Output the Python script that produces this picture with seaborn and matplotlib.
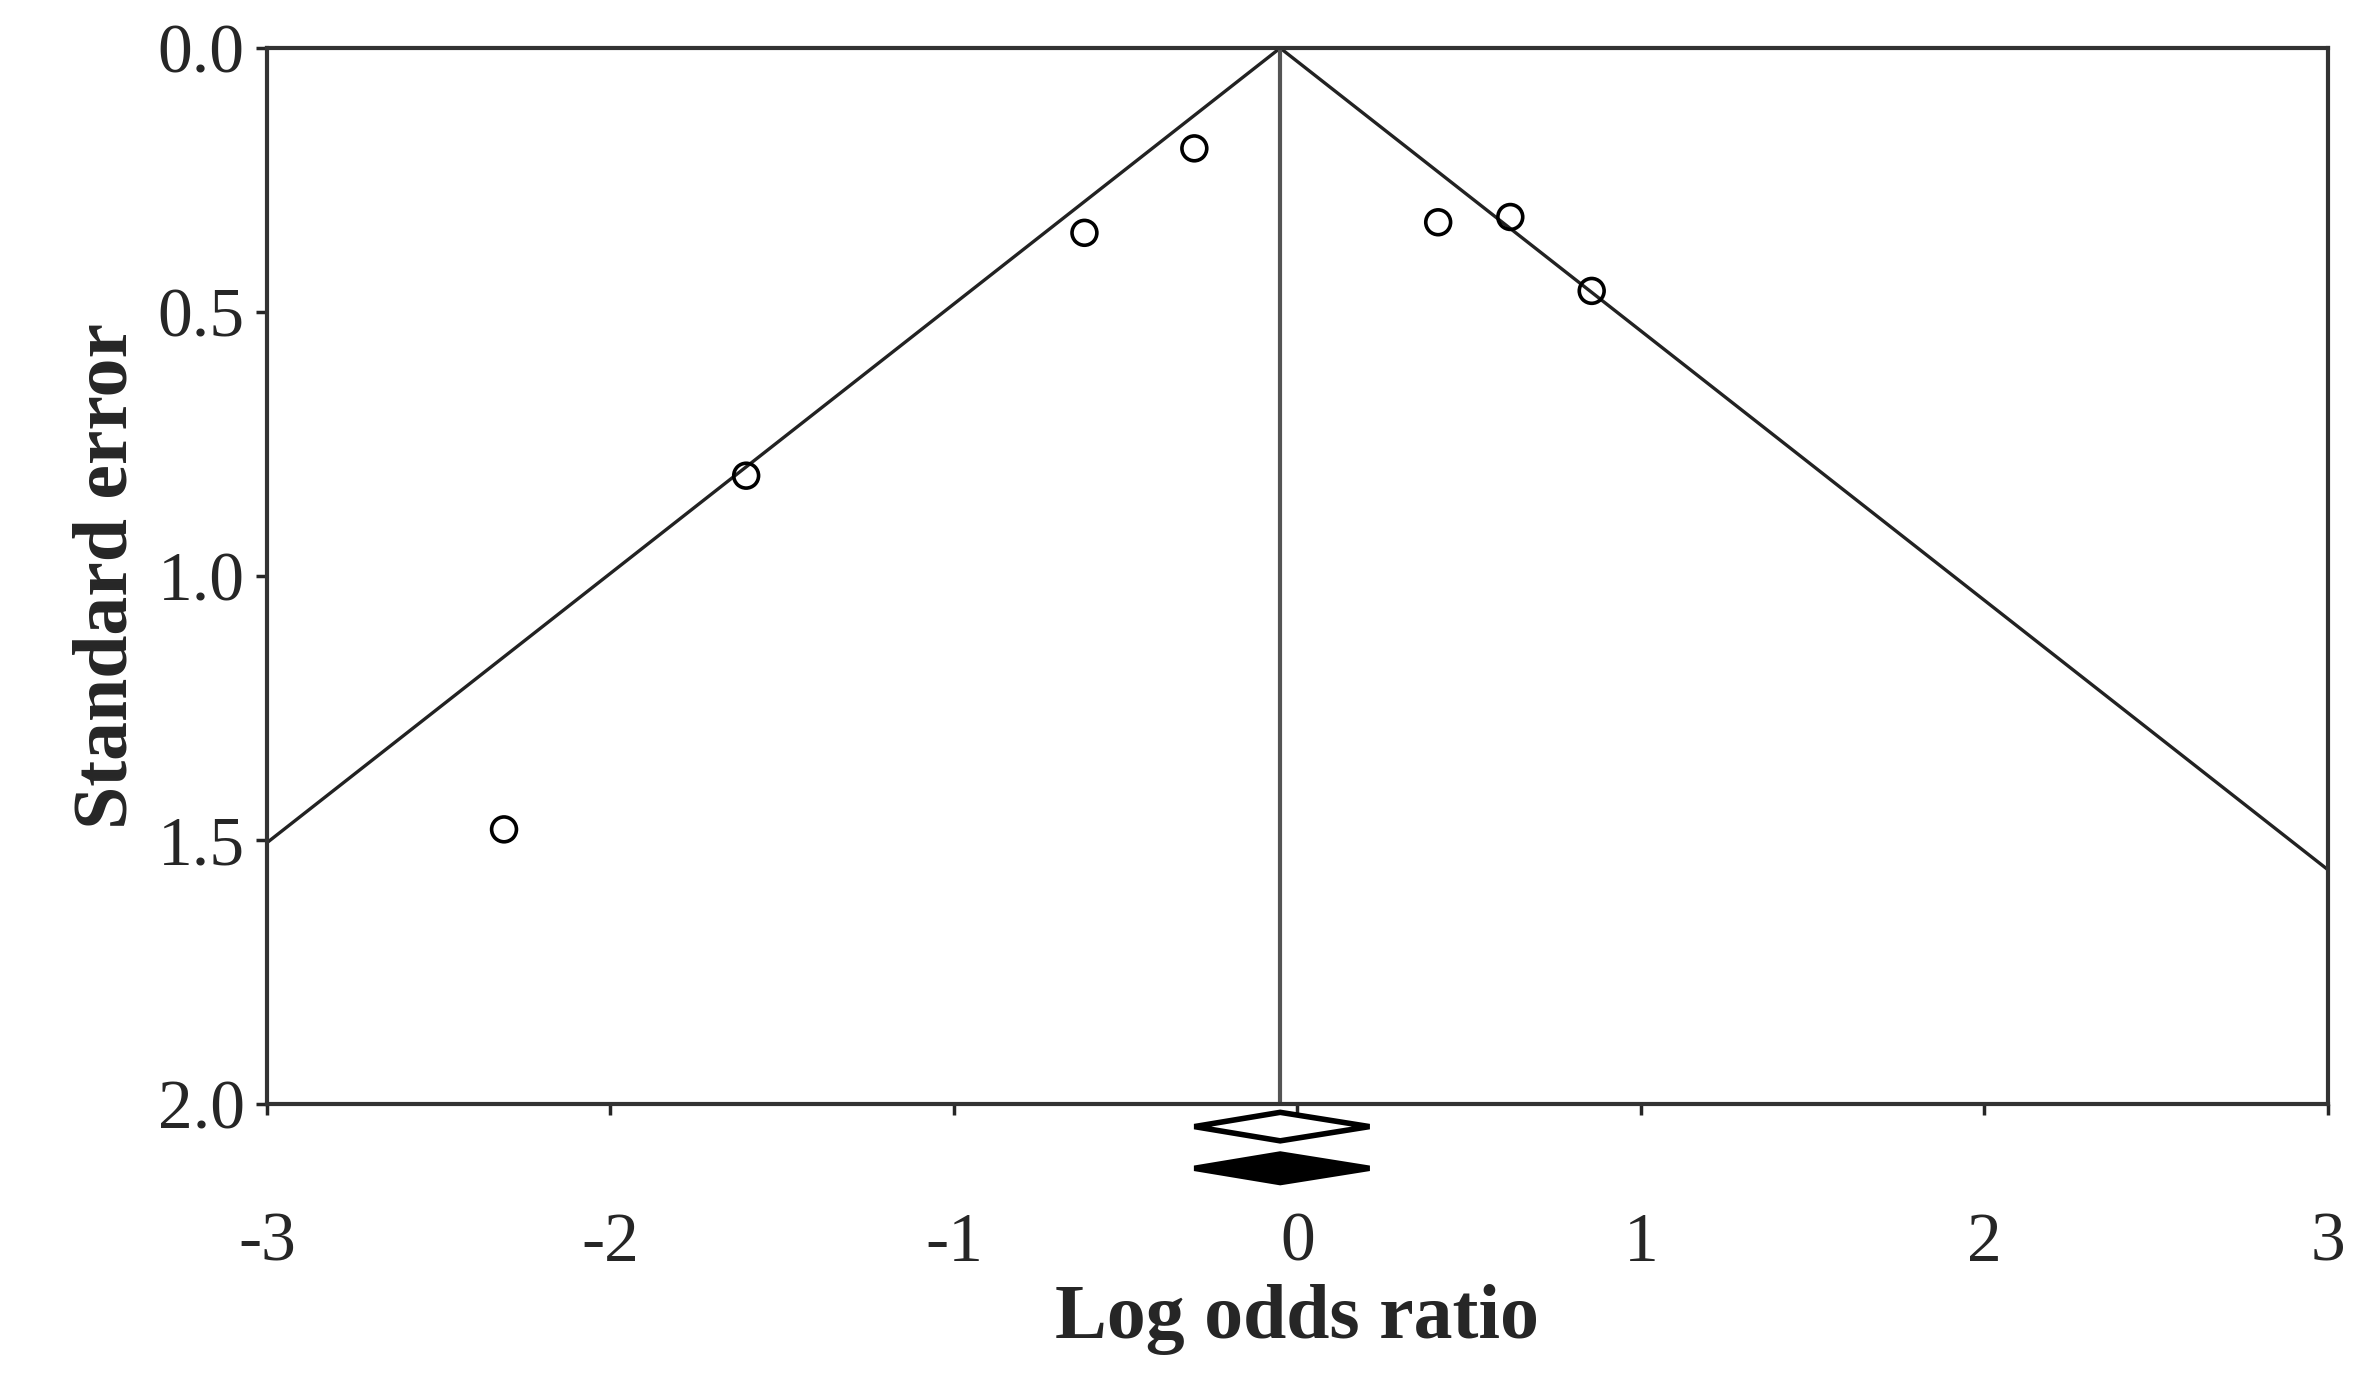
import matplotlib
matplotlib.use("Agg")
import matplotlib.pyplot as plt
import seaborn as sns
import numpy as np
import pandas as pd

log_or = [-2.31, -1.605, -0.62, -0.30, 0.41, 0.62, 0.857]
std_err = [1.48, 0.81, 0.35, 0.19, 0.33, 0.32, 0.46]
pooled = -0.05
fixed_ci = [-0.30, 0.21]
random_ci = [-0.30, 0.21]
xticks = [-3, -2, -1, 0, 1, 2, 3]
yticks = [0.0, 0.5, 1.0, 1.5, 2.0]

sns.set_theme(style="white")
plt.rcParams['font.family'] = ['Liberation Serif', 'DejaVu Serif']

fig = plt.figure(figsize=(23.55, 13.73), dpi=100)
ax = fig.add_axes([0.1134, 0.196, 0.875, 0.769])

df = pd.DataFrame({"x": log_or, "se": std_err})
sns.scatterplot(data=df, x="x", y="se", ax=ax, marker="o", s=320,
                facecolor="none", edgecolor="black", linewidth=2.6, zorder=3)

se_max = 2.0
se_line = np.array([0, se_max])
ax.plot(pooled - 1.96 * se_line, se_line, color="#222222", lw=2.4)
ax.plot(pooled + 1.96 * se_line, se_line, color="#222222", lw=2.4)
ax.axvline(pooled, color="#555555", lw=3)

def diamond(y, lo, hi, fill):
    h = 0.027
    xs = [lo, pooled, hi, pooled, lo]
    ys = [y, y - h, y, y + h, y]
    ax.fill(xs, ys, facecolor="black" if fill else "white", edgecolor="black",
            lw=4, clip_on=False, zorder=5)

diamond(2.043, fixed_ci[0], fixed_ci[1], False)
diamond(2.122, random_ci[0], random_ci[1], True)

ax.set_xlim(-3, 3)
ax.set_ylim(2.0, 0.0)
ax.set_xticks(xticks)
ax.set_xticklabels([str(t) for t in xticks])
ax.set_yticks(yticks)
ax.set_yticklabels([f"{t:.1f}" for t in yticks])
ax.tick_params(axis="x", labelsize=50, pad=70, direction="out", length=8, width=2.5, bottom=True)
ax.tick_params(axis="y", labelsize=50, pad=8, direction="out", length=8, width=2.5, left=True)
for s in ax.spines.values():
    s.set_color("#333333")
    s.set_linewidth(3)
ax.set_xlabel("Log odds ratio", fontsize=56, fontweight="bold", labelpad=6)
ax.set_ylabel("Standard error", fontsize=56, fontweight="bold", labelpad=10)

fig.savefig("out.png", dpi=100, facecolor="white")
